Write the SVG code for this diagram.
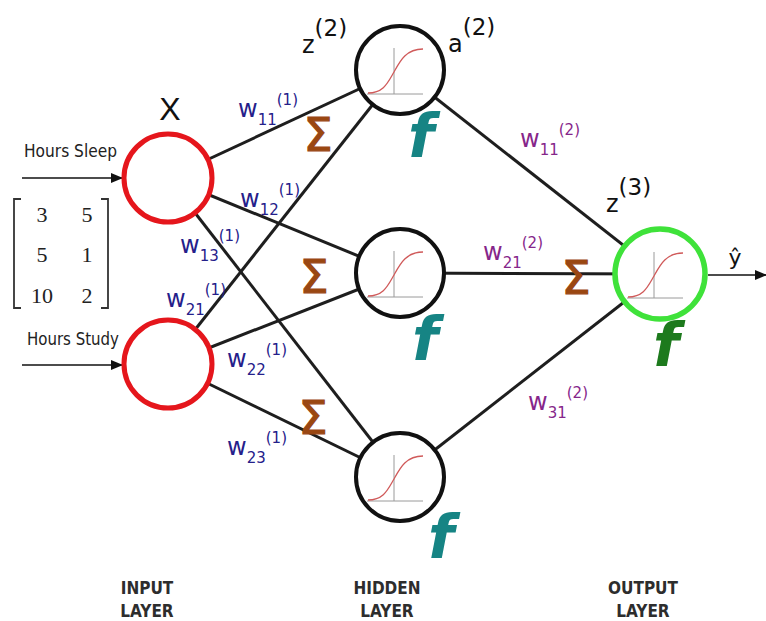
<svg xmlns="http://www.w3.org/2000/svg" xmlns:xlink="http://www.w3.org/1999/xlink" width="766" height="621" viewBox="0 0 766 621">
<style>
.edge{stroke:#1e1e1e;stroke-width:3;fill:none}
.arr{stroke:#111;stroke-width:1.6;fill:none}
.inp{fill:#fff;stroke:#e5161c;stroke-width:5}
.hid{fill:#fff;stroke:#111;stroke-width:4}
.out{fill:#fff;stroke:#3fe23a;stroke-width:5.5}
.ax{stroke:#9a9a9a;stroke-width:1;fill:none}
.sg{stroke:#d05a5a;stroke-width:1.3;fill:none}
.wb{font-family:"DejaVu Sans",sans-serif;font-size:24px;fill:#25208a}
.wp{font-family:"DejaVu Sans",sans-serif;font-size:24px;fill:#86268a}
.sm{font-size:15px}
.sig{font-family:"DejaVu Sans",sans-serif;font-size:46px;fill:#9a4712;stroke:#9a4712;stroke-width:1.2;text-anchor:middle}
.ff{font-family:"DejaVu Sans",sans-serif;font-weight:bold;font-style:italic;font-size:60px;fill:#168484;text-anchor:middle}
.fg{fill:#1d7a1d}
.za{font-family:"DejaVu Sans",sans-serif;font-size:24px;fill:#111}
.zs{font-size:23px}
.hrs{font-family:"DejaVu Sans Condensed","DejaVu Sans",sans-serif;font-size:17px;fill:#222}
.mx{font-family:"Liberation Serif",serif;font-size:22px;fill:#222;text-anchor:middle}
.br{stroke:#333;stroke-width:1.8;fill:none}
.lay{font-family:"DejaVu Sans Condensed","DejaVu Sans",sans-serif;font-weight:bold;font-size:17px;fill:#2d2d2d;text-anchor:middle}
</style>
<defs>
<marker id="ah" viewBox="0 0 12 10" refX="11" refY="5" markerWidth="12" markerHeight="10" markerUnits="userSpaceOnUse" orient="auto">
<path d="M0,0 L12,5 L0,10 Z" fill="#111"/>
</marker>
<g id="sigm">
<path class="ax" d="M-6,-22 V24 M-33,24 H23"/>
<path class="sg" d="M-32,23 C-16,23 -12,12 -6,2 C0,-9 6,-21 23,-21"/>
</g>
</defs>
<rect width="766" height="621" fill="#fff"/>
<g id="connectors">
<line class="edge" x1="168" y1="178" x2="400" y2="70"/>
<line class="edge" x1="168" y1="178" x2="400" y2="273"/>
<line class="edge" x1="168" y1="178" x2="400" y2="477"/>
<line class="edge" x1="168" y1="364" x2="400" y2="70"/>
<line class="edge" x1="168" y1="364" x2="400" y2="273"/>
<line class="edge" x1="168" y1="364" x2="400" y2="477"/>
<line class="edge" x1="400" y1="70" x2="660" y2="274"/>
<line class="edge" x1="400" y1="273" x2="660" y2="274"/>
<line class="edge" x1="400" y1="477" x2="660" y2="274"/>
<line class="arr" x1="22" y1="178" x2="122" y2="178" marker-end="url(#ah)"/>
<line class="arr" x1="22" y1="365" x2="122" y2="365" marker-end="url(#ah)"/>
<line class="arr" x1="708" y1="275" x2="766" y2="275" marker-end="url(#ah)"/>
</g>
<g id="input1">
<circle class="inp" cx="168" cy="178" r="44"/>
<text class="hrs" x="24" y="157" textLength="93" lengthAdjust="spacingAndGlyphs">Hours Sleep</text>
<text x="170" y="120" font-family="Liberation Sans, sans-serif" font-size="32" fill="#111" text-anchor="middle">X</text>
</g>
<g id="input2">
<circle class="inp" cx="168" cy="364" r="44"/>
<text class="hrs" x="27" y="345" textLength="92" lengthAdjust="spacingAndGlyphs">Hours Study</text>
</g>
<g id="matrix">
<path class="br" d="M21,199 H14 V308 H21 M101,199 H108 V308 H101"/>
<text class="mx" x="42" y="222">3</text><text class="mx" x="87" y="222">5</text>
<text class="mx" x="42" y="262">5</text><text class="mx" x="87" y="262">1</text>
<text class="mx" x="42" y="303">10</text><text class="mx" x="87" y="303">2</text>
</g>
<g id="hidden1">
<circle class="hid" cx="400" cy="70" r="44"/>
<use xlink:href="#sigm" x="400" y="70"/>
<text class="sig" x="318" y="151">Σ</text>
<text class="ff" x="421" y="157">f</text>
<text class="za" x="302" y="53">z<tspan class="zs" dy="-17">(2)</tspan></text>
<text class="za" x="448" y="52">a<tspan class="zs" dy="-17">(2)</tspan></text>
</g>
<g id="hidden2">
<circle class="hid" cx="400" cy="273" r="44"/>
<use xlink:href="#sigm" x="400" y="273"/>
<text class="sig" x="314" y="293">Σ</text>
<text class="ff" x="425" y="360">f</text>
</g>
<g id="hidden3">
<circle class="hid" cx="400" cy="477" r="44"/>
<use xlink:href="#sigm" x="400" y="477"/>
<text class="sig" x="313" y="434">Σ</text>
<text class="ff" x="441" y="558">f</text>
</g>
<g id="output">
<circle class="out" cx="660" cy="274" r="45"/>
<use xlink:href="#sigm" x="660" y="274"/>
<text class="sig" x="576" y="294">Σ</text>
<text class="ff fg" x="666" y="366">f</text>
<text class="za" x="606" y="212">z<tspan class="zs" dy="-17">(3)</tspan></text>
<text x="735" y="265" font-family="DejaVu Sans, sans-serif" font-size="22" fill="#111" text-anchor="middle">ŷ</text>
</g>
<g id="weights">
<text class="wb" x="238" y="117">w<tspan class="sm" dy="8">11</tspan><tspan class="sm" dy="-20">(1)</tspan></text>
<text class="wb" x="240" y="207">w<tspan class="sm" dy="8">12</tspan><tspan class="sm" dy="-20">(1)</tspan></text>
<text class="wb" x="180" y="253">w<tspan class="sm" dy="8">13</tspan><tspan class="sm" dy="-20">(1)</tspan></text>
<text class="wb" x="166" y="307">w<tspan class="sm" dy="8">21</tspan><tspan class="sm" dy="-20">(1)</tspan></text>
<text class="wb" x="227" y="367">w<tspan class="sm" dy="8">22</tspan><tspan class="sm" dy="-20">(1)</tspan></text>
<text class="wb" x="227" y="455">w<tspan class="sm" dy="8">23</tspan><tspan class="sm" dy="-20">(1)</tspan></text>
<text class="wp" x="520" y="147">w<tspan class="sm" dy="8">11</tspan><tspan class="sm" dy="-20">(2)</tspan></text>
<text class="wp" x="483" y="260">w<tspan class="sm" dy="8">21</tspan><tspan class="sm" dy="-20">(2)</tspan></text>
<text class="wp" x="528" y="410">w<tspan class="sm" dy="8">31</tspan><tspan class="sm" dy="-20">(2)</tspan></text>
</g>
<g id="layers">
<text class="lay" x="147" y="594">INPUT</text>
<text class="lay" x="147" y="617">LAYER</text>
<text class="lay" x="387" y="594">HIDDEN</text>
<text class="lay" x="387" y="617">LAYER</text>
<text class="lay" x="643" y="594">OUTPUT</text>
<text class="lay" x="643" y="617">LAYER</text>
</g>
</svg>
